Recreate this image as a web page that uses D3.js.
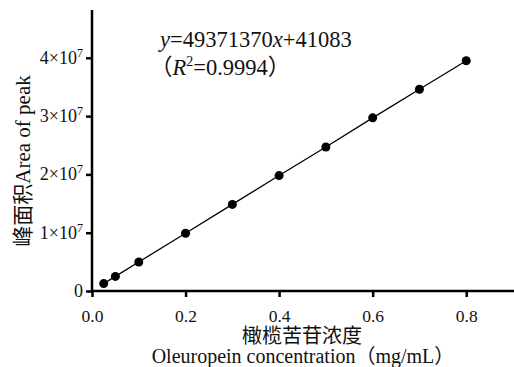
<!DOCTYPE html>
<html>
<head>
<meta charset="utf-8">
<style>
  body { margin: 0; background: #fff; }
  svg text { font-family: "Liberation Serif", "Times New Roman", Times, "DejaVu Serif", "Noto Sans CJK SC", serif; fill: #111; }
</style>
</head>
<body>
<svg id="svg"></svg>
<script src="https://cdn.jsdelivr.net/npm/d3@7"></script>
<script>
    const concentrations = [0.025, 0.05, 0.1, 0.2, 0.3, 0.4, 0.5, 0.6, 0.7, 0.8]
    const peakAreas = [1.27e6, 2.5e6, 4.98e6, 9.9e6, 14.85e6, 19.8e6, 24.7e6, 29.7e6, 34.6e6, 39.5e6]
    const xTicks = [0, 0.2, 0.4, 0.6, 0.8]
    const yTicks = [0, 1e7, 2e7, 3e7, 4e7]

    const WIDTH = 514
    const HEIGHT = 367

    const svg = d3.select('svg')
        .attr('width', WIDTH)
        .attr('height', HEIGHT)

    const x = d3.scaleLinear().domain([0, 0.9]).range([92, 513])
    const y = d3.scaleLinear().domain([0, 4.82e7]).range([291, 10])

    const points = concentrations.map((c, i) => ({x: c, y: peakAreas[i]}))

    // axes
    const xAxis = svg.append('g')
        .attr('transform', `translate(0,${y(0)})`)
        .call(d3.axisBottom(x).tickValues(xTicks).tickFormat(d3.format('.1f')).tickSize(6).tickSizeOuter(0))
    const yAxis = svg.append('g')
        .attr('transform', `translate(${x(0)},0)`)
        .call(d3.axisLeft(y).tickValues(yTicks).tickFormat('').tickSize(6).tickSizeOuter(0))

    ;[xAxis, yAxis].forEach(g => {
        g.attr('font-family', null).attr('font-size', null)
        g.selectAll('path, line').attr('stroke', '#000').attr('stroke-width', 2.5)
    })
    xAxis.select('.domain').attr('d', `M${x(0) - 1},0H${WIDTH}`)
    yAxis.select('.domain').attr('d', `M0,${y(0) + 1}V${y.range()[1]}`)
    xAxis.selectAll('text')
        .attr('font-size', 17.5).attr('dy', 0).attr('y', 31)
        .attr('fill', '#111')

    // y tick labels with superscripts
    const yLabels = svg.append('g')
        .selectAll('text')
        .data(yTicks)
        .enter().append('text')
        .attr('x', 83)
        .attr('y', d => y(d) + 6)
        .attr('text-anchor', 'end')
        .attr('font-size', 18)
    yLabels.each(function (d) {
        const t = d3.select(this)
        if (d === 0) { t.text('0'); return }
        t.append('tspan').text(`${d / 1e7}×10`)
        t.append('tspan').text('7').attr('font-size', 12).attr('dy', -7)
    })

    // line and points
    svg.append('path')
        .datum(points)
        .attr('fill', 'none')
        .attr('stroke', '#000')
        .attr('stroke-width', 1.3)
        .attr('d', d3.line().x(d => x(d.x)).y(d => y(d.y)))

    svg.append('g')
        .selectAll('circle')
        .data(points)
        .enter().append('circle')
        .attr('cx', d => x(d.x))
        .attr('cy', d => y(d.y))
        .attr('r', 4.5)
        .attr('fill', '#000')

    // equation
    const eq = svg.append('text').attr('x', 160).attr('y', 47).attr('font-size', 22.5)
    eq.append('tspan').text('y').attr('font-style', 'italic')
    eq.append('tspan').text('=49371370')
    eq.append('tspan').text('x').attr('font-style', 'italic')
    eq.append('tspan').text('+41083')

    const r2 = svg.append('text').attr('x', 150).attr('y', 75).attr('font-size', 22.5)
    r2.append('tspan').text('（')
    r2.append('tspan').text('R').attr('font-style', 'italic')
    r2.append('tspan').text('2').attr('font-size', 14).attr('dy', -9)
    r2.append('tspan').text('=0.9994').attr('dy', 9)
    r2.append('tspan').text('）')

    // axis titles
    svg.append('text')
        .attr('transform', 'translate(30,161) rotate(-90)')
        .attr('text-anchor', 'middle')
        .attr('font-size', 21)
        .text('峰面积Area of peak')

    svg.append('text')
        .attr('x', 302).attr('y', 343)
        .attr('text-anchor', 'middle')
        .attr('font-size', 20)
        .text('橄榄苦苷浓度')

    svg.append('text')
        .attr('x', 303).attr('y', 363)
        .attr('text-anchor', 'middle')
        .attr('font-size', 20)
        .text('Oleuropein concentration（mg/mL）')
</script>
</body>
</html>
